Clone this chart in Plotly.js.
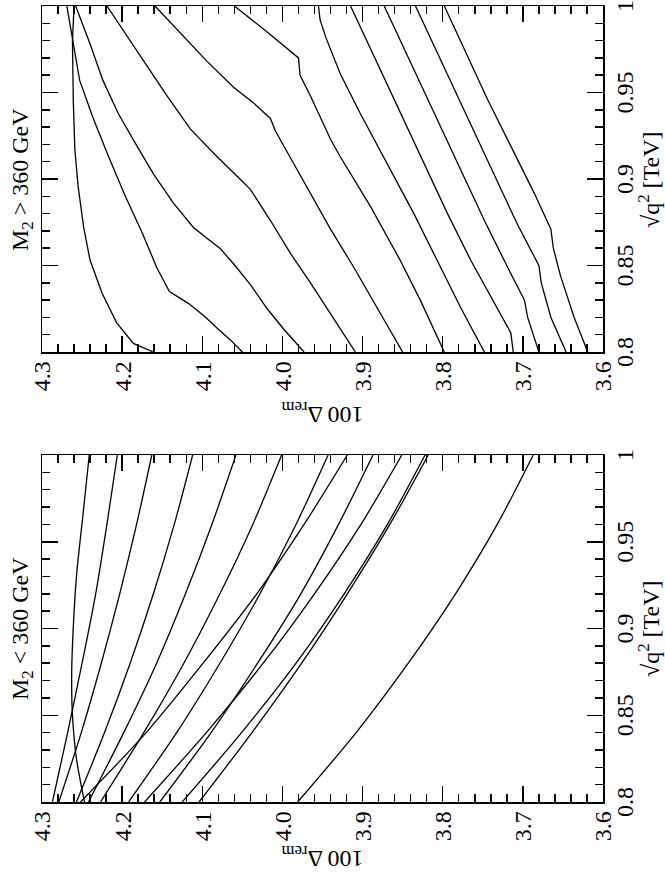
<!DOCTYPE html>
<html>
<head>
<meta charset="utf-8">
<script src="https://cdn.plot.ly/plotly-3.0.1.min.js"></script>
<style>
html,body{margin:0;padding:0;width:665px;height:872px;overflow:hidden;background:#fff}
#wrap{position:absolute;left:0;top:0;width:872px;height:665px;transform-origin:0 0;transform:translate(0px,872px) rotate(-90deg)}
#chart{width:872px;height:665px}
</style>
</head>
<body>
<div id="wrap"><div id="chart"></div></div>
<script>
// ---------- tick labels ----------
const xTickVals = [0.8, 0.85, 0.9, 0.95, 1];
const xTickText = ['0.8', '0.85', '0.9', '0.95', '1'];
const yTickVals = [3.6, 3.7, 3.8, 3.9, 4.0, 4.1, 4.2, 4.3];
const yTickText = ['3.6', '3.7', '3.8', '3.9', '4.0', '4.1', '4.2', '4.3'];

const panelTitles = ['M<sub>2</sub> &lt; 360 GeV', 'M<sub>2</sub> &gt; 360 GeV'];
const xTitle = '√q<sup>2</sup> [TeV]';
const yTitle = '100 Δ<sub>rem</sub>';

// ---------- panel 1: M2 < 360 GeV (sqrt(q^2) in TeV, 100*Delta_rem) ----------
const qLow = [0.80, 0.84, 0.88, 0.92, 0.96, 1.00];
const lo1  = [4.287, 4.268, 4.250, 4.233, 4.219, 4.206];
const lo2  = [4.279, 4.251, 4.226, 4.203, 4.182, 4.163];
const lo3  = [4.257, 4.222, 4.190, 4.161, 4.135, 4.112];
const lo4  = [4.242, 4.198, 4.157, 4.121, 4.088, 4.058];
const lo5  = [4.227, 4.173, 4.123, 4.078, 4.037, 4.001];
const lo6  = [4.192, 4.132, 4.078, 4.028, 3.983, 3.943];
const lo7  = [4.252, 4.170, 4.099, 4.032, 3.973, 3.919];
const lo8  = [4.153, 4.089, 4.031, 3.977, 3.930, 3.887];
const lo9  = [4.172, 4.095, 4.024, 3.960, 3.902, 3.851];
const lo10 = [4.125, 4.051, 3.983, 3.923, 3.869, 3.822];
const lo11 = [4.104, 4.038, 3.976, 3.919, 3.866, 3.818];
const lo12 = [3.981, 3.908, 3.843, 3.784, 3.732, 3.687];
const loKq = [0.800, 0.825, 0.850, 0.870, 0.890, 0.930, 0.965, 1.000];
const loKd = [4.247, 4.257, 4.262, 4.263, 4.262, 4.257, 4.249, 4.241];

// ---------- panel 2: M2 > 360 GeV ----------
const hi1q  = [1.0, 0.980, 0.946, 0.917, 0.896, 0.872, 0.853, 0.834, 0.817, 0.805, 0.8];
const hi1d  = [4.260, 4.262, 4.261, 4.259, 4.255, 4.248, 4.240, 4.225, 4.207, 4.186, 4.161];
const hi2q  = [1.0, 0.957, 0.935, 0.913, 0.890, 0.869, 0.849, 0.835, 0.828, 0.821, 0.814, 0.807, 0.8];
const hi2d  = [4.269, 4.253, 4.236, 4.217, 4.196, 4.175, 4.157, 4.141, 4.117, 4.098, 4.082, 4.065, 4.050];
const hi3q  = [1.0, 0.978, 0.957, 0.938, 0.921, 0.903, 0.886, 0.872, 0.866, 0.860, 0.851, 0.839, 0.825, 0.813, 0.8];
const hi3d  = [4.258, 4.240, 4.224, 4.205, 4.184, 4.161, 4.136, 4.111, 4.095, 4.078, 4.061, 4.040, 4.019, 3.998, 3.973];
const hi4q  = [1.0, 0.984, 0.967, 0.948, 0.929, 0.914, 0.900, 0.894, 0.876, 0.857, 0.840, 0.822, 0.8];
const hi4d  = [4.219, 4.196, 4.171, 4.144, 4.115, 4.084, 4.053, 4.040, 4.015, 3.990, 3.965, 3.940, 3.909];
const hi5q  = [1.0, 0.985, 0.968, 0.953, 0.944, 0.935, 0.928, 0.923, 0.909, 0.892, 0.871, 0.849, 0.826, 0.8];
const hi5d  = [4.159, 4.128, 4.094, 4.061, 4.036, 4.015, 4.009, 4.003, 3.986, 3.965, 3.940, 3.911, 3.882, 3.850];
const hi6q  = [1.0, 0.985, 0.970, 0.965, 0.960, 0.948, 0.923, 0.913, 0.884, 0.853, 0.830, 0.8];
const hi6d  = [4.060, 4.019, 3.980, 3.979, 3.978, 3.965, 3.940, 3.928, 3.890, 3.853, 3.828, 3.798];
const hi7q  = [1.0, 0.992, 0.982, 0.975, 0.961, 0.938, 0.909, 0.880, 0.853, 0.826, 0.8];
const hi7d  = [3.955, 3.953, 3.946, 3.940, 3.928, 3.903, 3.869, 3.836, 3.807, 3.778, 3.748];
const hi8q  = [1.0, 0.975, 0.946, 0.913, 0.880, 0.853, 0.832, 0.811, 0.8];
const hi8d  = [3.915, 3.890, 3.861, 3.828, 3.794, 3.765, 3.740, 3.715, 3.712];
const hi9q  = [1.0, 0.971, 0.938, 0.905, 0.876, 0.849, 0.830, 0.820, 0.811, 0.8];
const hi9d  = [3.873, 3.844, 3.811, 3.778, 3.748, 3.719, 3.698, 3.694, 3.688, 3.680];
const hi10q = [1.0, 0.969, 0.936, 0.903, 0.874, 0.850, 0.840, 0.820, 0.8];
const hi10d = [3.834, 3.803, 3.769, 3.736, 3.707, 3.680, 3.677, 3.665, 3.646];
const hi11q = [1.0, 0.975, 0.946, 0.919, 0.892, 0.871, 0.860, 0.844, 0.820, 0.8];
const hi11d = [3.798, 3.773, 3.744, 3.715, 3.686, 3.665, 3.662, 3.653, 3.636, 3.619];

// ---------- build traces ----------
const lineStyle = {color: '#000', width: 1.3};
const traces = [];
[lo1, lo2, lo3, lo4, lo5, lo6, lo7, lo8, lo9, lo10, lo11, lo12].forEach(d => {
  traces.push({x: qLow, y: d, mode: 'lines', line: Object.assign({shape: 'spline', smoothing: 0.8}, lineStyle), xaxis: 'x', yaxis: 'y', hoverinfo: 'skip'});
});
traces.push({x: loKq, y: loKd, mode: 'lines', line: Object.assign({shape: 'spline', smoothing: 0.8}, lineStyle), xaxis: 'x', yaxis: 'y', hoverinfo: 'skip'});
[[hi1q, hi1d], [hi2q, hi2d], [hi3q, hi3d], [hi4q, hi4d], [hi5q, hi5d], [hi6q, hi6d],
 [hi7q, hi7d], [hi8q, hi8d], [hi9q, hi9d], [hi10q, hi10d], [hi11q, hi11d]].forEach(p => {
  traces.push({x: p[0], y: p[1], mode: 'lines', line: lineStyle, xaxis: 'x2', yaxis: 'y2', hoverinfo: 'skip'});
});

// ---------- axes ----------
const FS = 24;
const dom1 = [0, 0.4359];
const dom2 = [0.5653, 1];
function xAxis(domain, anchor) {
  return {
    domain: domain, anchor: anchor, range: [0.8, 1],
    tickmode: 'array', tickvals: xTickVals, ticktext: xTickText,
    ticks: 'inside', ticklen: 16, tickwidth: 1.5, tickcolor: '#000',
    showline: true, linewidth: 1.5, linecolor: '#000', mirror: 'ticks',
    showgrid: false, zeroline: false, fixedrange: true,
    minor: {tickmode: 'linear', tick0: 0.8, dtick: 0.01, ticks: 'inside', ticklen: 8, tickwidth: 1.5, tickcolor: '#000', showgrid: false},
    tickfont: {size: FS}
  };
}
function yAxis(anchor) {
  return {
    domain: [0, 1], anchor: anchor, range: [3.6, 4.3],
    tickmode: 'array', tickvals: yTickVals, ticktext: yTickText,
    ticks: 'inside', ticklen: 16, tickwidth: 1.5, tickcolor: '#000',
    showline: true, linewidth: 1.5, linecolor: '#000', mirror: 'ticks',
    showgrid: false, zeroline: false, fixedrange: true,
    ticklabelstandoff: 3,
    minor: {tickmode: 'linear', tick0: 3.6, dtick: 0.02, ticks: 'inside', ticklen: 8, tickwidth: 1.5, tickcolor: '#000', showgrid: false},
    tickfont: {size: FS},
    title: {text: yTitle, font: {size: FS}, standoff: 8}
  };
}

function note(text, x, y, yanchor, yshift) {
  return {text: text, xref: 'paper', yref: 'paper', x: x, y: y, xanchor: 'center', yanchor: yanchor, yshift: yshift, showarrow: false, font: {size: FS}};
}
const c1 = (dom1[0] + dom1[1]) / 2, c2 = (dom2[0] + dom2[1]) / 2;

const layout = {
  width: 872, height: 665,
  margin: {l: 70, r: 6, t: 42, b: 62, pad: 0},
  paper_bgcolor: '#fff', plot_bgcolor: '#fff',
  showlegend: false,
  font: {family: '"Liberation Serif", "Times New Roman", serif', size: FS, color: '#000'},
  xaxis: xAxis(dom1, 'y'),
  yaxis: yAxis('x'),
  xaxis2: xAxis(dom2, 'y2'),
  yaxis2: yAxis('x2'),
  annotations: [
    note(panelTitles[0], c1, 1, 'bottom', 3),
    note(panelTitles[1], c2, 1, 'bottom', 3),
    note(xTitle, c1, 0, 'top', -29),
    note(xTitle, c2, 0, 'top', -29)
  ]
};

Plotly.newPlot('chart', traces, layout, {staticPlot: true, displayModeBar: false});
</script>
</body>
</html>
